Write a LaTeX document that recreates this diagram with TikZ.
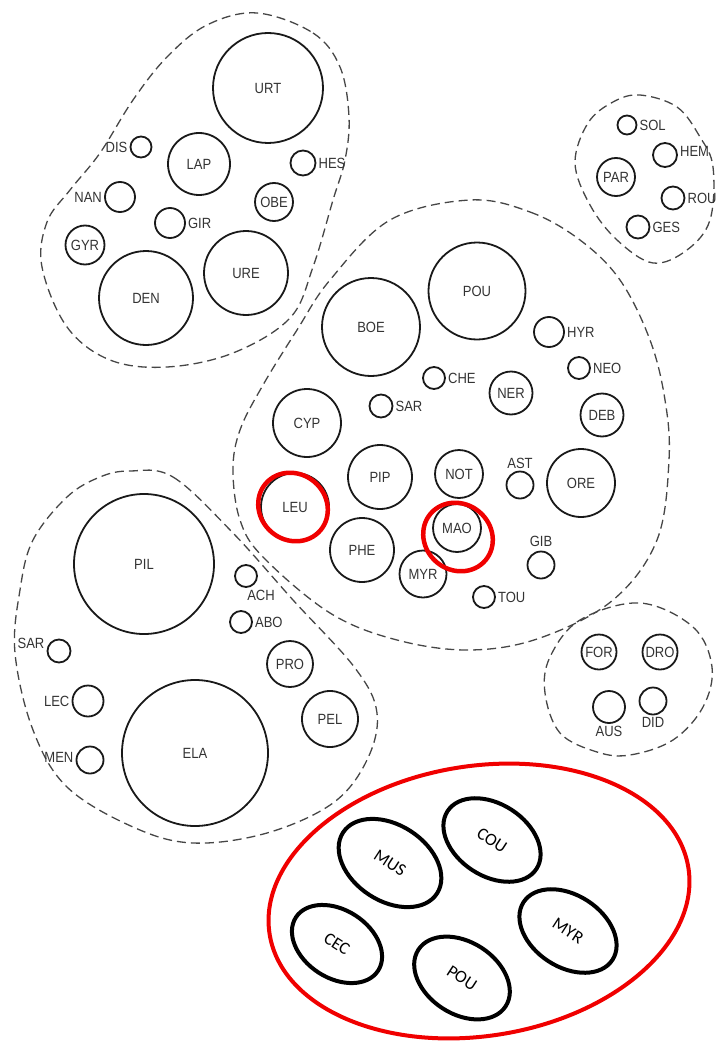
\documentclass[tikz,border=0pt]{standalone}
\usepackage{fontspec}
\setmainfont{Liberation Sans}[FakeStretch=0.88]
\newfontfamily\insetfont{Carlito}
\usepackage{tikz}
\usetikzlibrary{shapes.geometric}
\definecolor{cred}{RGB}{240,0,0}
\definecolor{cgris}{RGB}{70,70,70}
\newcommand\lblsize{\fontsize{14.8}{15}\selectfont}

\begin{document}
\begin{tikzpicture}[x=1pt, y=-1pt,
  sp/.style={circle, draw=black!90, line width=1.8pt, inner sep=0pt, font=\lblsize, text=black!80},
  lbl/.style={font=\lblsize, text=black!80, inner sep=1pt},
  zone/.style={draw=cgris, line width=1.3pt, dash pattern=on 9pt off 5pt},
  pick/.style={ellipse, draw=cred, line width=4.5pt, inner sep=0pt},
  grp/.style={ellipse, draw=black, line width=4pt, inner sep=0pt, rotate=-33,
    font=\insetfont\fontsize{17.5}{18}\selectfont}]
\useasboundingbox (0,0) rectangle (715,1043);
% dashed zones
\draw[zone] plot[smooth cycle, tension=0.6] coordinates {(257,13) (313,33) (340,67) (349,117)
  (345,160) (333,200) (313,267) (290,318) (233,353) (167,367) (110,360) (67,327) (42,267)
  (47,222) (70,190) (100,153) (133,100) (167,57) (207,25)};
\draw[zone] plot[smooth cycle, tension=0.6] coordinates {(640,95) (677,107) (700,137) (713,167)
  (710,220) (687,250) (653,263) (617,240) (590,205) (575,163) (588,123) (613,102)};
\draw[zone] plot[smooth cycle, tension=0.6] coordinates {(470,200) (530,212) (580,240) (620,280)
  (650,340) (665,400) (669,460) (657,540) (613,600) (540,638) (470,650) (397,640) (330,613)
  (263,557) (240,520) (233,470) (240,430) (263,385) (297,330) (330,280) (390,220)};
\draw[zone] plot[smooth cycle, tension=0.6] coordinates {(130,471) (173,477) (233,533) (293,600)
  (355,668) (377,713) (367,760) (333,803) (267,833) (193,843) (133,827) (67,787) (33,730)
  (15,653) (20,590) (33,540) (67,497) (100,477)};
\draw[zone] plot[smooth cycle, tension=0.6] coordinates {(640,603) (693,627) (712,667) (703,707)
  (673,740) (630,755) (597,752) (560,733) (545,693) (550,657) (580,620)};
% circles with the name inside
\foreach \n/\x/\y/\r in {URT/268/88/55, LAP/199/164/31, OBE/274/202/19, GYR/85/245/19.5,
  URE/246/273/42, DEN/146/298/47, PAR/616/177/19, POU/477/291/48.5, BOE/371/327/49,
  NER/511/393/21.5, DEB/602/415/21.5, CYP/307/423/34, PIP/380/477/32, NOT/459/474/24,
  ORE/581/483/34, LEU/295/507/34, PHE/362/550/32, MAO/457/528/24, MYR/423/574/23.5,
  PIL/144/564/70, PRO/290/664/23, PEL/330/719/28, ELA/195/753/73, FOR/599/652/17.5,
  DRO/660/652/17.5}
  {\node[sp, minimum size={2*\r pt}] (\n) at (\x,\y) {\n};}
% small circles with the name beside
\foreach \n/\t/\x/\y/\r/\a/\p/\dx/\dy in {DIS/DIS/141/147/10.5/west/left/0/0,
  HES/HES/303/163/12.5/east/right/0/0, NAN/NAN/120/197/15/west/left/0/0,
  GIR/GIR/170/223/15/east/right/0/0, SOL/SOL/627/125/9.5/east/right/0/0,
  HEM/HEM/665/155/12/east/right/0/4, ROU/ROU/673/198/11.5/east/right/0/0,
  GES/GES/638/227/11.5/east/right/0/0, HYR/HYR/549/332/15/east/right/0/0,
  CHE/CHE/434/378/11/east/right/0/0, NEO/NEO/579/368/11/east/right/0/0,
  SARm/SAR/381/406/11.5/east/right/0/0, AST/AST/520/485/13.5/north/above/0/0,
  GIB/GIB/541/565/13.5/north/above/0/2, TOU/TOU/484/597/11/east/right/0/0,
  ACH/ACH/246/576/11/south/below/15/0, ABO/ABO/241/622/11/east/right/0/0,
  SARl/SAR/59/651/11.5/west/left/0/8, LEC/LEC/88/701/15.5/west/left/0/0,
  MEN/MEN/90/760/13.5/west/left/0/3, AUS/AUS/609/707/16/south/below/0/0,
  DID/DID/653/701/13.5/south/below/0/0}
  {\node[sp, minimum size={2*\r pt}] (\n) at (\x,\y) {};
   \node[lbl, \p=1pt, xshift=\dx pt, yshift=\dy pt] (t\n) at (\n.\a) {\t};}
% red marks
\node[pick, minimum width=72pt, minimum height=66pt, rotate=-40] (pLEU) at (293,507) {};
\node[pick, minimum width=72pt, minimum height=66pt, rotate=-40] (pMAO) at (458,537) {};
% inset
\node[pick, line width=4pt, minimum width=424pt, minimum height=270pt, rotate=9] (inset) at (479,901) {};
\foreach \n/\t/\x/\y/\a/\b in {iMUS/MUS/390/863/56/38, iCOU/COU/492/840/53/36,
  iCEC/CEC/337/944/49/34, iPOU/POU/462/978/52/36, iMYR/MYR/568/931/53/36}
  {\node[grp, minimum width={2*\a pt}, minimum height={2*\b pt}] (\n) at (\x,\y) {\t};}
\end{tikzpicture}
\end{document}
